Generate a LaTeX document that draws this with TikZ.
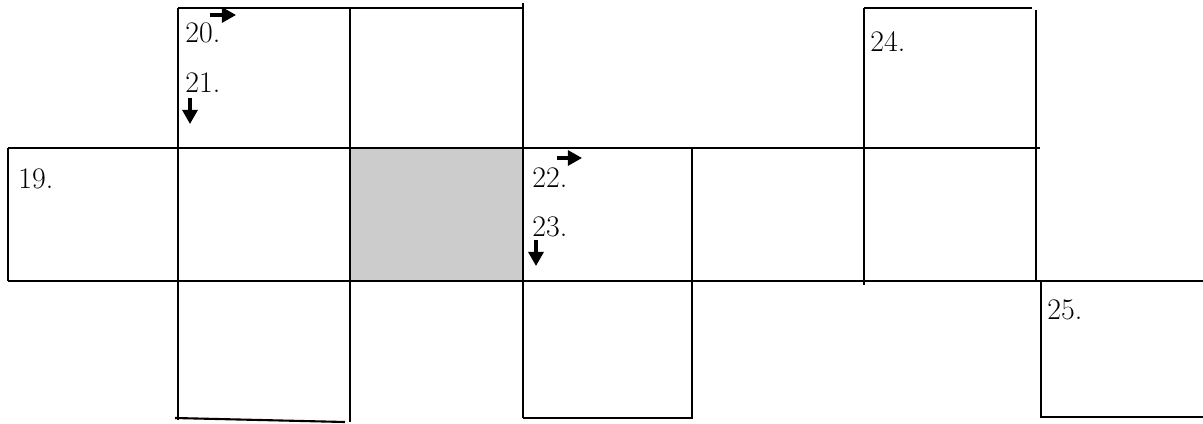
\documentclass[tikz,border=0pt]{standalone}
\usepackage{tikz}
\usetikzlibrary{arrows.meta}

\begin{document}
\begin{tikzpicture}[
    x=0.02cm, y=-0.02cm,
    every node/.style={inner sep=0pt, anchor=base west, font=\fontsize{17}{19}\selectfont},
    gridline/.style={line width=1.2pt},
    clue/.style={line width=1.8pt, -{Triangle[length=8pt,width=8.5pt]}},
    blank/.style={fill=black!20}
]
\useasboundingbox (0,0) rectangle (1203,423);

% Shaded square
\fill[blank] (350,148) rectangle (523,281);

% Upper cells
\draw[gridline] (178,8) -- (522,8);
\draw[gridline] (864,8) -- (1032,8);
\draw[gridline] (523,3) -- (523,418);
\draw[gridline] (864,8) -- (864,285);
\draw[gridline] (1036,10) -- (1036,281);

% Middle row
\draw[gridline] (8,148) -- (1040,148);
\draw[gridline] (8,148) -- (8,281);
\draw[gridline] (8,281) -- (1203,281);
\draw[gridline] (178,8) -- (178,420);
\draw[gridline] (350,8) -- (350,422);
\draw[gridline] (692,148) -- (692,419);

% Lower cells
\draw[gridline] (175,418) -- (345,422);
\draw[gridline] (523,418) -- (692,418);
\draw[gridline] (1041,281) -- (1041,417) -- (1203,417);

% Clue numbers
\node (n19) at (18,188) {19.};
\node (n20) at (185,42) {20.};
\node (n21) at (185,92) {21.};
\node (n22) at (532,187) {22.};
\node (n23) at (532,236) {23.};
\node (n24) at (870,51) {24.};
\node (n25) at (1047,319) {25.};

% Direction marks
\coordinate (a20) at (210,15);
\coordinate (b20) at (236,15);
\coordinate (a21) at (190,98);
\coordinate (b21) at (190,124);
\coordinate (a22) at (557,158);
\coordinate (b22) at (582,158);
\coordinate (a23) at (536,240);
\coordinate (b23) at (536,266);
\draw[clue] (a20) -- (b20);
\draw[clue] (a21) -- (b21);
\draw[clue] (a22) -- (b22);
\draw[clue] (a23) -- (b23);

\end{tikzpicture}
\end{document}
